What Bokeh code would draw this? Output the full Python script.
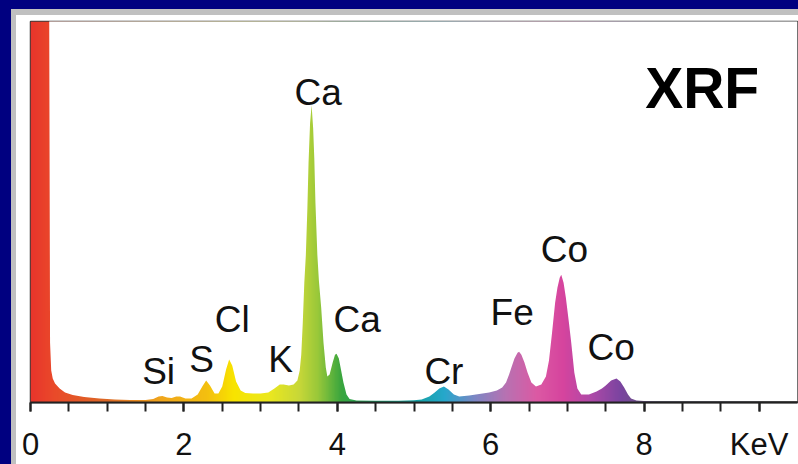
import numpy as np
from bokeh.plotting import figure
from bokeh.models import Range1d, FixedTicker, Label
from bokeh.embed import file_html
from bokeh.resources import INLINE

# ---------------- data ----------------
energy_kev = [
    0.0, 0.24, 0.255, 0.27, 0.29, 0.32, 0.38, 0.45, 0.55, 0.7, 0.9, 1.1, 1.3, 1.5,
    1.6, 1.67, 1.72, 1.78, 1.84, 1.9, 1.95, 2.02, 2.1,
    2.18, 2.24, 2.29, 2.34, 2.4, 2.45,
    2.5, 2.55, 2.59, 2.63, 2.68, 2.74, 2.8, 2.9, 3.0, 3.1,
    3.18, 3.25, 3.3, 3.37, 3.43, 3.48,
    3.51, 3.53, 3.55, 3.57, 3.59, 3.61, 3.625, 3.645, 3.665, 3.685, 3.70, 3.715,
    3.74, 3.76, 3.79, 3.82, 3.85, 3.87, 3.9, 3.94, 3.97, 3.99, 4.02, 4.05, 4.08,
    4.12, 4.16, 4.25,
    4.5, 4.8, 5.0, 5.1, 5.2, 5.27, 5.33, 5.39, 5.45, 5.52, 5.59, 5.72, 5.85, 5.98,
    6.08, 6.15,
    6.2, 6.24, 6.27, 6.31, 6.35, 6.37, 6.4, 6.44, 6.48, 6.53, 6.59, 6.66, 6.72,
    6.76, 6.8, 6.84, 6.87, 6.9, 6.92, 6.95, 6.98, 7.02, 7.05, 7.09, 7.13, 7.18,
    7.28, 7.38, 7.45, 7.5, 7.57, 7.64, 7.69, 7.74, 7.79, 7.83, 7.9, 8.0, 9.0, 10.0,
]
counts = [
    500, 500, 60, 32, 24, 19, 14, 10, 7.5, 5.5, 4, 3, 2.5, 2.5,
    3.5, 6, 6.5, 5, 4.5, 6, 6, 4, 4,
    8, 16, 22, 17, 9, 9,
    16, 33, 43, 37, 21, 12, 9.5, 9, 9, 10,
    14, 18, 18, 17, 18, 22,
    32, 48, 80, 120, 148, 195, 240, 280, 298, 275, 245, 200,
    148, 122, 95, 60, 35, 26, 28, 40, 48, 49, 44, 32, 20,
    8, 3.5, 2,
    1.8, 1.8, 2.2, 3, 6, 10, 14, 16, 13, 8, 6, 7, 8.5, 10,
    12, 15,
    20, 28, 35, 44, 50, 51, 48, 40, 30, 20, 16, 18, 26,
    42, 70, 100, 115, 125, 128, 120, 105, 80, 60, 30, 14, 8,
    8, 11, 14, 17, 22, 24, 21, 15, 8, 4, 2, 1.5, 1.5, 1.5,
]
assert len(energy_kev) == len(counts)

peak_label_text = ["Ca", "Si", "S", "Cl", "K", "Ca", "Cr", "Fe", "Co", "Co"]
peak_label_kev = [3.75, 1.67, 2.23, 2.63, 3.26, 4.26, 5.39, 6.28, 6.96, 7.57]
peak_label_counts = [311, 31, 43, 83, 43, 83, 31, 90, 153, 55]

tick_kev = [0, 2, 4, 6, 8]
tick_text = ["0", "2", "4", "6", "8"]
minor_tick_kev = [0, 0.5, 1, 1.5, 2, 2.5, 3, 3.5, 4, 4.5, 5, 5.5, 6, 6.5, 7, 7.5,
                  8, 8.5, 9, 9.5]
unit_kev = 9.5
unit_text = "KeV"
title_text = "XRF"

# colour gradient along the energy axis (styling)
grad_kev = [0.0, 0.3, 1.0, 1.7, 2.3, 2.65, 3.1, 3.5, 3.75, 4.05, 4.5, 5.0, 5.4,
            5.8, 6.2, 6.6, 6.95, 7.3, 7.7, 8.2, 10.0]
grad_col = ["#e8352c", "#ea4a2a", "#dc6a26", "#f0a61c", "#f4c010", "#f8e400",
            "#ece81e", "#c8d838", "#98c83a", "#3aa63e", "#1e9e6a", "#14a0a0",
            "#26a8cc", "#7e86c4", "#b872b2", "#dc5aa4", "#d6449e", "#b04aa8",
            "#7a44a0", "#606070", "#606060"]

# ---------------- figure ----------------
W, H = 798, 464
X_END = 10
Y_END = 382
FONT = "Liberation Sans"

slide_frame = (
    "linear-gradient(to right, #000080 11px, transparent 11px), "
    "linear-gradient(to bottom, #000080 9px, #c0c0c0 9px, #c0c0c0 15px, transparent 15px), "
    "linear-gradient(to right, transparent 11px, #c0c0c0 11px, #c0c0c0 16px, #ffffff 16px)"
)

p = figure(width=W, height=H, output_backend="svg", toolbar_location=None,
           x_range=Range1d(0, X_END), y_range=Range1d(0, Y_END),
           y_axis_location=None,
           min_border_left=30, min_border_right=1, min_border_top=21,
           min_border_bottom=61,
           background_fill_color="white", border_fill_color=None,
           outline_line_color="#3a3a3a", outline_line_width=1.5,
           styles={"background": slide_frame})
p.xgrid.visible = False
p.ygrid.visible = False

# gradient fill under the spectrum
def hex2rgb(h):
    h = h.lstrip("#")
    return [int(h[i:i + 2], 16) for i in (0, 2, 4)]

N = 1000
es = np.linspace(0, 10, N)
rgb = np.array([hex2rgb(c) for c in grad_col], dtype=float)
img = np.zeros((1, N, 4), dtype=np.uint8)
for k in range(3):
    img[0, :, k] = np.interp(es, grad_kev, rgb[:, k]).astype(np.uint8)
img[0, :, 3] = 255
p.image_rgba(image=[img.view(np.uint32).reshape(1, N)], x=0, y=0, dw=10, dh=Y_END)

# white mask above the spectrum curve
p.varea(x=energy_kev, y1=counts, y2=Y_END + 50, fill_color="white", fill_alpha=1)

# axis
overrides = {v: t for v, t in zip(tick_kev, tick_text)}
overrides[unit_kev] = unit_text
p.xaxis.ticker = FixedTicker(ticks=tick_kev + [unit_kev], minor_ticks=minor_tick_kev)
p.xaxis.major_label_overrides = overrides
p.xaxis.axis_line_color = "#222222"
p.xaxis.axis_line_width = 2
for kind in ("major", "minor"):
    setattr(p.xaxis, f"{kind}_tick_line_color", "#222222")
    setattr(p.xaxis, f"{kind}_tick_line_width", 2)
    setattr(p.xaxis, f"{kind}_tick_out", 9)
    setattr(p.xaxis, f"{kind}_tick_in", 0)
p.xaxis.major_label_text_font = FONT
p.xaxis.major_label_text_font_size = "31px"
p.xaxis.major_label_text_color = "#111111"
p.xaxis.major_label_standoff = 15

# peak labels
for t, xk, yc in zip(peak_label_text, peak_label_kev, peak_label_counts):
    p.add_layout(Label(x=xk, y=yc, text=t, text_align="center",
                       text_baseline="alphabetic", text_font=FONT,
                       text_font_size="37px", text_color="#111111"))

p.add_layout(Label(x=9.5, y=315, text=title_text, text_align="right",
                   text_baseline="alphabetic", text_font=FONT,
                   text_font_style="bold", text_font_size="57px",
                   text_color="#000000"))

open("out.html", "w").write(file_html(p, INLINE))
